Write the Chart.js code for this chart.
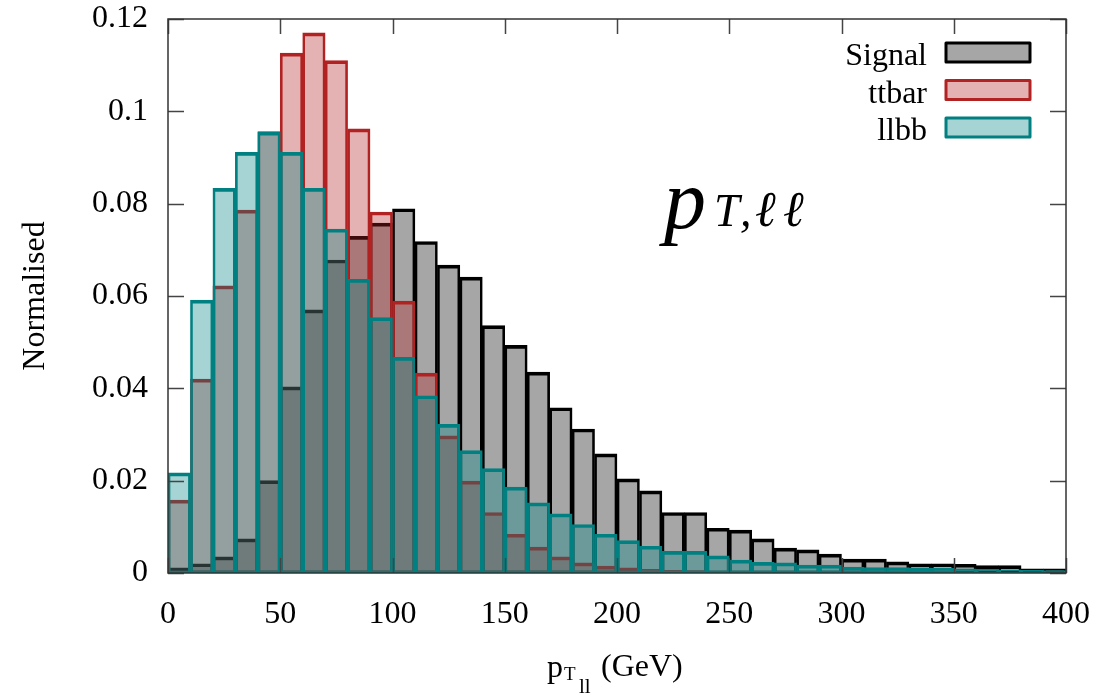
<!DOCTYPE html>
<html>
<head>
<meta charset="utf-8">
<script src="https://cdn.jsdelivr.net/npm/chart.js@4.4.0/dist/chart.umd.min.js"></script>
<style>
  html, body { margin: 0; padding: 0; background: #fff; }
  #wrap { width: 1096px; height: 694px; }
</style>
</head>
<body>
<div id="wrap"><canvas id="ptllChart"></canvas></div>
<script>
// lower edges of the 10 GeV bins
const binLow = [0, 10, 20, 30, 40, 50, 60, 70, 80, 90,
  100, 110, 120, 130, 140, 150, 160, 170, 180, 190,
  200, 210, 220, 230, 240, 250, 260, 270, 280, 290,
  300, 310, 320, 330, 340, 350, 360, 370, 380, 390];
const binWidth = 10;

const signal = [0.0011, 0.0020, 0.0035, 0.0074, 0.0200, 0.0403, 0.0570, 0.0678, 0.0729, 0.0758,
  0.0789, 0.0718, 0.0667, 0.0641, 0.0536, 0.0493, 0.0435, 0.0358, 0.0312, 0.0258,
  0.0204, 0.0178, 0.0131, 0.0131, 0.0097, 0.0093, 0.0074, 0.0054, 0.0050, 0.0041,
  0.0030, 0.0030, 0.0024, 0.0020, 0.0020, 0.0019, 0.0016, 0.0016, 0.0009, 0.0009];
const ttbar = [0.0158, 0.0420, 0.0622, 0.0786, 0.0956, 0.1126, 0.1170, 0.1110, 0.0962, 0.0782,
  0.0589, 0.0433, 0.0297, 0.0199, 0.0131, 0.0084, 0.0056, 0.0035, 0.0022, 0.0015,
  0.0011, 0.0008, 0.0006, 0.0005, 0.0004, 0.0003, 0.0003, 0.0002, 0.0002, 0.0002,
  0.0001, 0.0001, 0.0001, 0.0001, 0.0001, 0.0001, 0.0001, 0.0001, 0.0001, 0.0001];
const llbb = [0.0217, 0.0591, 0.0833, 0.0911, 0.0955, 0.0911, 0.0833, 0.0745, 0.0636, 0.0553,
  0.0467, 0.0384, 0.0322, 0.0265, 0.0226, 0.0186, 0.0152, 0.0128, 0.0105, 0.0084,
  0.0070, 0.0058, 0.0047, 0.0047, 0.0037, 0.0028, 0.0023, 0.0022, 0.0017, 0.0017,
  0.0013, 0.0012, 0.0012, 0.0011, 0.0010, 0.0009, 0.0008, 0.0007, 0.0006, 0.0005];

const xTicks = [0, 50, 100, 150, 200, 250, 300, 350, 400];
const yTicks = [0, 0.02, 0.04, 0.06, 0.08, 0.1, 0.12];
const yTickLabels = ['0', '0.02', '0.04', '0.06', '0.08', '0.1', '0.12'];

const seriesNames = ['Signal', 'ttbar', 'llbb'];
const lineColors = ['#000000', '#b22222', '#008080'];
const fillColors = ['rgba(0,0,0,0.35)', 'rgba(178,34,34,0.35)', 'rgba(0,128,128,0.35)'];

Chart.defaults.font.family = 'Liberation Serif';
Chart.defaults.color = '#000';

function toPoints(vals) {
  return binLow.map((lo, i) => ({ x: lo + binWidth / 2, y: vals[i] }));
}

// inward ticks on all four sides + border box
const framePlugin = {
  id: 'frame',
  afterDatasetsDraw(chart) {
    const { ctx, chartArea: a, scales: { x, y } } = chart;
    ctx.save();
    ctx.strokeStyle = '#444';
    ctx.lineWidth = 1.5;
    ctx.beginPath();
    xTicks.forEach(v => {
      const px = Math.round(x.getPixelForValue(v)) + 0.5;
      ctx.moveTo(px, a.bottom); ctx.lineTo(px, a.bottom - 15);
      ctx.moveTo(px, a.top); ctx.lineTo(px, a.top + 15);
    });
    yTicks.forEach(v => {
      const py = Math.round(y.getPixelForValue(v)) + 0.5;
      ctx.moveTo(a.left, py); ctx.lineTo(a.left + 16, py);
      ctx.moveTo(a.right, py); ctx.lineTo(a.right - 16, py);
    });
    ctx.stroke();
    ctx.strokeStyle = '#333';
    ctx.strokeRect(a.left, a.top, a.right - a.left, a.bottom - a.top);
    ctx.restore();
  }
};

// legend (text left of swatch), axis titles and the big label
const textPlugin = {
  id: 'texts',
  afterDraw(chart) {
    const { ctx, chartArea: a } = chart;
    ctx.save();
    ctx.fillStyle = '#000';

    // legend
    ctx.font = '32px "Liberation Serif"';
    ctx.textAlign = 'right';
    ctx.textBaseline = 'alphabetic';
    ctx.lineJoin = 'round';
    seriesNames.forEach((name, i) => {
      const top = 43 + i * 37.5;
      ctx.fillStyle = '#000';
      ctx.fillText(name, 927, top + 22);
      ctx.fillStyle = '#fff';
      ctx.fillRect(946, top, 84, 19);
      ctx.fillStyle = fillColors[i];
      ctx.fillRect(946, top, 84, 19);
      ctx.strokeStyle = lineColors[i];
      ctx.lineWidth = 3;
      ctx.strokeRect(946, top, 84, 19);
    });

    // y title
    ctx.fillStyle = '#000';
    ctx.save();
    ctx.translate(36, (a.top + a.bottom) / 2);
    ctx.rotate(-Math.PI / 2);
    ctx.textAlign = 'center';
    ctx.textBaseline = 'middle';
    ctx.font = '32px "Liberation Serif"';
    ctx.fillText('Normalised', 0, 0);
    ctx.restore();

    // x title  p_{T_{ll}} (GeV)
    ctx.textAlign = 'left';
    ctx.textBaseline = 'alphabetic';
    ctx.font = '32px "Liberation Serif"';
    ctx.fillText('p', 547, 677);
    ctx.font = '19px "Liberation Serif"';
    ctx.fillText('T', 564, 680);
    ctx.font = '21px "Liberation Serif"';
    ctx.fillText('ll', 579, 693);
    ctx.font = '32px "Liberation Serif"';
    ctx.fillText('(GeV)', 601, 676);

    // big label p_{T,ℓℓ}
    ctx.font = 'italic 84px "Liberation Serif"';
    ctx.fillText('p', 664, 228);
    ctx.font = 'italic 46px "Liberation Serif"';
    ctx.fillText('T', 714, 226);
    ctx.fillText(',', 740, 226);
    ctx.font = 'italic 50px "DejaVu Serif"';
    ctx.fillText('\u2113', 755, 226);
    ctx.fillText('\u2113', 783, 226);
    ctx.restore();
  }
};

// drop the automatic label padding so the plot box sits where it should
function noPad(s) {
  s.paddingLeft = 0; s.paddingRight = 0; s.paddingTop = 0; s.paddingBottom = 0;
}

const ctx = document.getElementById('ptllChart').getContext('2d');
const ptllChart = new Chart(ctx, {
  type: 'bar',
  data: {
    datasets: [signal, ttbar, llbb].map((vals, i) => ({
      label: seriesNames[i],
      data: toPoints(vals),
      backgroundColor: fillColors[i],
      borderColor: lineColors[i],
      borderWidth: { top: 3, left: 2, right: 2, bottom: 2 },
      borderSkipped: false,
      grouped: false,
      barPercentage: 1,
      categoryPercentage: 1,
      order: 3 - i
    }))
  },
  options: {
    responsive: true,
    maintainAspectRatio: false,
    animation: false,
    layout: { padding: { left: 0, top: 19, right: 30, bottom: 0 } },
    plugins: {
      legend: { display: false },
      tooltip: { enabled: false }
    },
    scales: {
      x: {
        type: 'linear',
        offset: false,
        min: 0,
        max: 400,
        grid: { display: false, drawTicks: false },
        border: { display: false },
        afterFit: s => { s.height = 121; noPad(s); },
        afterBuildTicks: s => { s.ticks = xTicks.map(v => ({ value: v })); },
        ticks: {
          font: { size: 32 },
          padding: 22,
          maxRotation: 0,
          callback: v => String(v)
        }
      },
      y: {
        min: 0,
        max: 0.12,
        grid: { display: false, drawTicks: false },
        border: { display: false },
        afterFit: s => { s.width = 168; noPad(s); },
        afterBuildTicks: s => { s.ticks = yTicks.map(v => ({ value: v })); },
        ticks: {
          font: { size: 32 },
          padding: 20,
          callback: (v, i) => yTickLabels[i]
        }
      }
    }
  },
  plugins: [framePlugin, textPlugin]
});
</script>
</body>
</html>
